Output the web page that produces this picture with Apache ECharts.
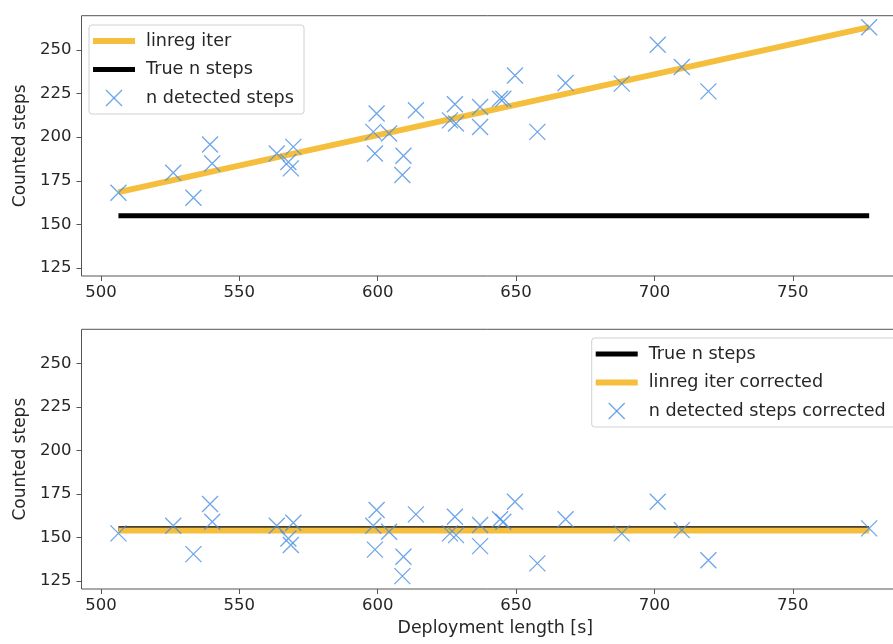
<!DOCTYPE html>
<html>
<head>
<meta charset="utf-8">
<title>Counted steps vs deployment length</title>
<script src="https://cdn.jsdelivr.net/npm/echarts@6/dist/echarts.min.js"></script>
<style>
  html, body { margin: 0; padding: 0; background: #ffffff; }
  #chart { width: 893px; height: 644px; }
</style>
</head>
<body>
<div id="chart"></div>
<script>
// Deployment lengths [s] of each run
const deploymentLength = [
  506.3, 526.1, 533.4, 539.4, 540.2, 563.5, 567.7, 568.6, 569.5, 598.4,
  599.6, 599.0, 604.1, 608.9, 609.3, 613.8, 626.1, 627.9, 628.3, 637.0,
  637.0, 644.2, 645.4, 649.6, 657.7, 667.9, 688.2, 701.2, 709.9, 719.5,
  777.6
];
// Raw number of detected steps per run
const detectedSteps = [
  168.2, 179.6, 165.3, 195.8, 184.9, 190.6, 185.8, 182.1, 194.4, 203.0,
  213.5, 190.6, 202.1, 178.3, 189.3, 215.4, 209.6, 218.8, 207.8, 217.2,
  205.8, 222.0, 222.0, 235.3, 203.0, 231.0, 230.6, 252.9, 240.1, 226.2,
  262.9
];
// Detected steps after the length-dependent correction
const detectedStepsCorrected = [
  152.4, 156.8, 140.5, 169.3, 159.1, 156.8, 149.5, 145.7, 158.5, 156.8,
  165.8, 143.1, 153.3, 127.9, 139.0, 163.3, 152.4, 162.0, 151.4, 157.2,
  145.1, 160.5, 159.1, 170.6, 135.2, 160.5, 152.4, 170.6, 154.3, 137.0,
  155.3
];
// Line end points (x range of the runs)
const lineX = [506.3, 777.6];
const linregIterY = [168.5, 263.0];
const linregCorrectedY = [154.0, 154.0];
const trueStepsY = [155.0, 155.0];

// Axis ticks
const xTicks = [500, 550, 600, 650, 700, 750];
const yTicks = [125, 150, 175, 200, 225, 250];

const FONT = 'DejaVu Sans';
const TEXT = '#262626';
const FRAME = '#555555';
const YELLOW = '#F5BE3C';
const BLUE = '#4A90E2';
const X_MARK = 'path://M0,0L16,16M16,0L0,16';
const AXIS_FS = 16.5;
const NAME_FS = 17.4;
const LEGEND_FS = 17.6;

const pairs = (xs, ys) => xs.map((x, i) => [x, ys[i]]);

function xAxisFor(gridIndex, withName) {
  return {
    type: 'value', gridIndex,
    min: 492.95, max: 792,
    axisLine: { show: false },
    splitLine: { show: false },
    axisTick: { show: true, inside: false, length: 5, customValues: xTicks,
                lineStyle: { color: FRAME, width: 1 } },
    axisLabel: { customValues: xTicks, margin: 8, fontSize: AXIS_FS, color: TEXT,
                 fontFamily: FONT, formatter: v => String(Math.round(v)) },
    name: withName ? 'Deployment length [s]' : '',
    nameLocation: 'middle', nameGap: 31,
    nameTextStyle: { fontSize: NAME_FS, color: TEXT, fontFamily: FONT }
  };
}

function yAxisFor(gridIndex) {
  return {
    type: 'value', gridIndex,
    min: 120.5, max: 269.5,
    axisLine: { show: false },
    splitLine: { show: false },
    axisTick: { show: true, inside: false, length: 5, customValues: yTicks,
                lineStyle: { color: FRAME, width: 1 } },
    axisLabel: { customValues: yTicks, margin: 10, fontSize: AXIS_FS, color: TEXT,
                 fontFamily: FONT, formatter: v => String(Math.round(v)) },
    name: 'Counted steps',
    nameLocation: 'middle', nameGap: 50,
    nameTextStyle: { fontSize: 17, color: TEXT, fontFamily: FONT }
  };
}

function legendBlock(x, y, w, items) {
  const els = [{
    type: 'rect', z: 100,
    shape: { x, y, width: w, height: 89, r: 3 },
    style: { fill: 'rgba(255,255,255,0.85)', stroke: '#d0d0d0', lineWidth: 1 }
  }];
  items.forEach((it, i) => {
    const cy = y + 16 + i * 28.5;
    const lx = x + 4;
    if (it.kind === 'line') {
      els.push({ type: 'line', z: 101,
        shape: { x1: lx, y1: cy, x2: lx + 42, y2: cy },
        style: { stroke: it.color, lineWidth: it.width } });
    } else {
      const cx = lx + 21;
      els.push({ type: 'line', z: 101,
        shape: { x1: cx - 8, y1: cy - 8, x2: cx + 8, y2: cy + 8 },
        style: { stroke: BLUE, lineWidth: 1.3, opacity: 0.8 } });
      els.push({ type: 'line', z: 101,
        shape: { x1: cx + 8, y1: cy - 8, x2: cx - 8, y2: cy + 8 },
        style: { stroke: BLUE, lineWidth: 1.3, opacity: 0.8 } });
    }
    els.push({ type: 'text', z: 101, x: lx + 53, y: cy,
      style: { text: it.label, fontSize: LEGEND_FS, fontFamily: FONT, fill: TEXT,
               verticalAlign: 'middle', align: 'left' } });
  });
  return els;
}

const chart = echarts.init(document.getElementById('chart'), null, { renderer: 'canvas' });

chart.setOption({
  animation: false,
  backgroundColor: '#ffffff',
  grid: [
    { left: 81.5, top: 15.7, width: 827.5, height: 260.3, outerBoundsMode: 'none',
      containLabel: false,
      show: true, borderColor: FRAME, borderWidth: 1, backgroundColor: '#ffffff' },
    { left: 81.5, top: 329.3, width: 827.5, height: 259.7, outerBoundsMode: 'none',
      containLabel: false,
      show: true, borderColor: FRAME, borderWidth: 1, backgroundColor: '#ffffff' }
  ],
  xAxis: [xAxisFor(0, false), xAxisFor(1, true)],
  yAxis: [yAxisFor(0), yAxisFor(1)],
  series: [
    { name: 'True n steps', type: 'line', xAxisIndex: 0, yAxisIndex: 0, z: 2,
      data: pairs(lineX, trueStepsY), symbol: 'none',
      lineStyle: { color: '#000000', width: 5 } },
    { name: 'linreg iter', type: 'line', xAxisIndex: 0, yAxisIndex: 0, z: 3,
      data: pairs(lineX, linregIterY), symbol: 'none',
      lineStyle: { color: YELLOW, width: 6 } },
    { name: 'n detected steps', type: 'scatter', xAxisIndex: 0, yAxisIndex: 0, z: 4,
      data: pairs(deploymentLength, detectedSteps),
      symbol: X_MARK, symbolSize: 16,
      itemStyle: { color: 'rgba(0,0,0,0)', borderColor: BLUE, borderWidth: 1.3, opacity: 0.8 } },

    { name: 'True n steps', type: 'line', xAxisIndex: 1, yAxisIndex: 1, z: 2,
      data: pairs(lineX, trueStepsY), symbol: 'none',
      lineStyle: { color: '#000000', width: 5 } },
    { name: 'linreg iter corrected', type: 'line', xAxisIndex: 1, yAxisIndex: 1, z: 3,
      data: pairs(lineX, linregCorrectedY), symbol: 'none',
      lineStyle: { color: YELLOW, width: 6 } },
    { name: 'n detected steps corrected', type: 'scatter', xAxisIndex: 1, yAxisIndex: 1, z: 4,
      data: pairs(deploymentLength, detectedStepsCorrected),
      symbol: X_MARK, symbolSize: 16,
      itemStyle: { color: 'rgba(0,0,0,0)', borderColor: BLUE, borderWidth: 1.3, opacity: 0.8 } }
  ],
  graphic: [
    ...legendBlock(89, 25, 215, [
      { kind: 'line', color: YELLOW, width: 6, label: 'linreg iter' },
      { kind: 'line', color: '#000000', width: 5, label: 'True n steps' },
      { kind: 'mark', label: 'n detected steps' }
    ]),
    ...legendBlock(591.7, 338, 320, [
      { kind: 'line', color: '#000000', width: 5, label: 'True n steps' },
      { kind: 'line', color: YELLOW, width: 6, label: 'linreg iter corrected' },
      { kind: 'mark', label: 'n detected steps corrected' }
    ])
  ]
});
</script>
</body>
</html>
